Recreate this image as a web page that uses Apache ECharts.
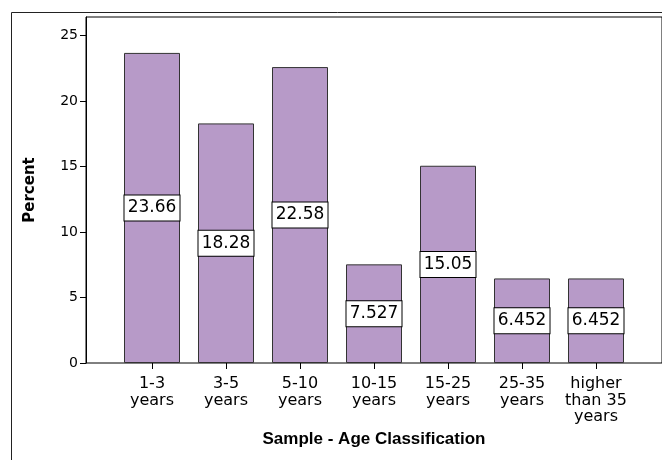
<!DOCTYPE html>
<html>
<head>
<meta charset="utf-8">
<script src="https://cdn.jsdelivr.net/npm/echarts@6/dist/echarts.min.js"></script>
<style>
  html, body { margin: 0; padding: 0; background: #fff; }
  #chart { width: 662px; height: 460px; }
</style>
</head>
<body>
<div id="chart"></div>
<script>
// Age groups of the sample and the percentage in each group
var categories = ['1-3\nyears', '3-5\nyears', '5-10\nyears', '10-15\nyears', '15-25\nyears', '25-35\nyears', 'higher\nthan 35\nyears'];
var percents = [23.66, 18.28, 22.58, 7.527, 15.05, 6.452, 6.452];
var yTicks = [0, 5, 10, 15, 20, 25];

var FONT = 'DejaVu Sans';
var chart = echarts.init(document.getElementById('chart'), null, { renderer: 'canvas' });

var yMax = 26.4;

chart.setOption({
  animation: false,
  backgroundColor: '#fff',
  graphic: [{
    type: 'rect',
    shape: { x: 11.5, y: 12.5, width: 700, height: 500 },
    style: { fill: 'none', stroke: '#222', lineWidth: 1 },
    silent: true
  }],
  grid: [
    // framed plot area with the value axis
    { left: 86, top: 17, right: -2, bottom: 97, show: true, borderColor: '#000', borderWidth: 1, backgroundColor: '#fff' },
    // inner band holding the bars
    { left: 115, top: 17, right: 29, bottom: 97 }
  ],
  xAxis: [
    { gridIndex: 0, type: 'value', min: 0, max: 1, show: false },
    {
      gridIndex: 1, type: 'category', data: categories,
      axisLine: { show: false },
      axisTick: { show: true, alignWithLabel: true, length: 6, lineStyle: { color: '#000' } },
      axisLabel: { fontFamily: FONT, fontSize: 16, lineHeight: 16.5, color: '#000', margin: 13, interval: 0 },
      name: 'Sample - Age Classification',
      nameLocation: 'middle',
      nameGap: 68,
      nameTextStyle: { fontFamily: 'Liberation Sans', fontSize: 17, fontWeight: 'bold', color: '#000' }
    }
  ],
  yAxis: [
    {
      gridIndex: 0, type: 'value', min: 0, max: yMax,
      axisLine: { show: true, lineStyle: { color: '#000' } },
      axisTick: { show: true, length: 6, customValues: yTicks, lineStyle: { color: '#000' } },
      axisLabel: { customValues: yTicks, fontFamily: FONT, fontSize: 14, color: '#000', margin: 8 },
      splitLine: { show: false },
      name: 'Percent',
      nameLocation: 'middle',
      nameGap: 48,
      nameTextStyle: { fontFamily: FONT, fontSize: 15, fontWeight: 'bold', color: '#000' }
    },
    { gridIndex: 1, type: 'value', min: 0, max: yMax, show: false }
  ],
  series: [{
    type: 'bar',
    xAxisIndex: 1,
    yAxisIndex: 1,
    data: percents,
    barWidth: 56,
    itemStyle: { color: '#b79ac8', borderColor: '#333', borderWidth: 1 },
    label: {
      show: true,
      position: 'inside',
      formatter: function (p) { return String(p.value); },
      fontFamily: FONT,
      fontSize: 17,
      color: '#000',
      backgroundColor: '#fff',
      borderColor: '#000',
      borderWidth: 1,
      width: 55,
      align: 'center',
      padding: [4, 0, 4, 0]
    }
  }]
});
</script>
</body>
</html>
